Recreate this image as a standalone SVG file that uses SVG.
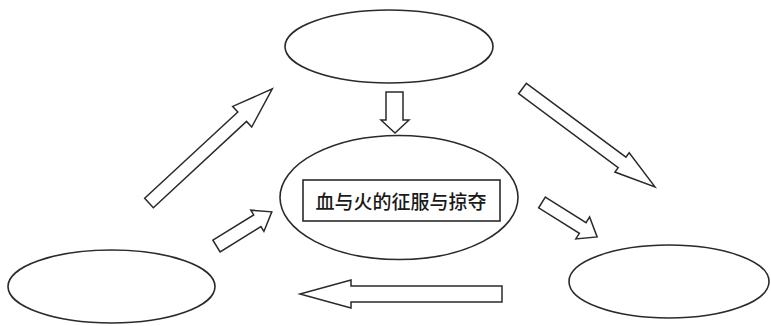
<svg xmlns="http://www.w3.org/2000/svg" width="771" height="326" viewBox="0 0 771 326">
<style>
.n{fill:#fff;stroke:#2a2a2a;stroke-width:1.6}
.a{fill:#fff;stroke:#2a2a2a;stroke-width:1.5;stroke-linejoin:miter}
.t{font-family:"Noto Sans CJK SC","Noto Sans",sans-serif;font-size:19px;font-weight:500;fill:#1a1a1a;text-anchor:middle;dominant-baseline:central}
</style>
<rect width="771" height="326" fill="#fff"/>
<g id="connectors">
<polygon class="a" points="386,92 403,92 403,120 409,120 395,133 381,120 386,120"/>
<polygon class="a" transform="translate(149,203) rotate(-42.8)" points="0,-6.4 127,-6.4 127,-14 168,0 127,14 127,6.4 0,6.4"/>
<polygon class="a" transform="translate(522.5,88.5) rotate(36.6)" points="0,-6.5 124,-6.5 124,-12 165,0 124,12 124,6.5 0,6.5"/>
<polygon class="a" transform="translate(216.5,246) rotate(-31.7)" points="0,-6.9 48,-6.9 48,-12.5 65,0 48,12.5 48,6.9 0,6.9"/>
<polygon class="a" transform="translate(542,202.5) rotate(32)" points="0,-6.3 48,-6.3 48,-13 65,0 48,13 48,6.3 0,6.3"/>
<polygon class="a" points="502,286 351,286 351,280 300,294 351,308 351,302 502,302"/>
</g>
<g id="node-top"><ellipse class="n" cx="389" cy="46.5" rx="104" ry="36.5"/></g>
<g id="node-center">
<ellipse class="n" cx="399" cy="197.5" rx="119" ry="62"/>
<rect class="n" x="303" y="180" width="197" height="41"/>
<text class="t" x="401" y="200.5">血与火的征服与掠夺</text>
</g>
<g id="node-left"><ellipse class="n" cx="111.5" cy="286.5" rx="103.5" ry="36.5"/></g>
<g id="node-right"><ellipse class="n" cx="669" cy="281.5" rx="100" ry="36.5"/></g>
</svg>
